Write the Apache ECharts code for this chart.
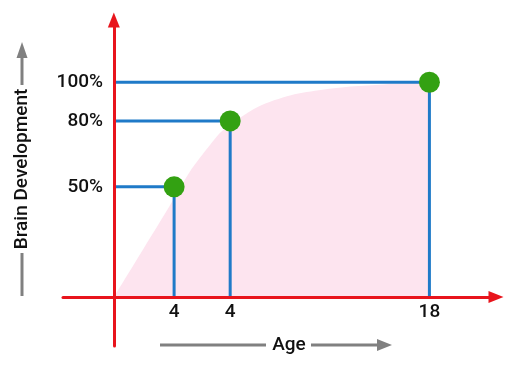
<!DOCTYPE html>
<html>
<head>
<meta charset="utf-8">
<script src="https://cdn.jsdelivr.net/npm/echarts@6/dist/echarts.min.js"></script>
<style>html,body{margin:0;padding:0;background:#fff}#c{width:516px;height:366px}</style>
</head>
<body>
<div id="c"></div>
<script>
// Key points (age position on axis, development %)
var pointX = [3.43, 6.63, 18];
var pointY = [51.3, 82, 100];
var xTickLabels = ['4', '4', '18'];
var yTickLabels = ['50%', '80%', '100%'];
// Development curve (pink area)
var curveX = [0, 1.5, 3, 4.3, 5.5, 6.2, 8.2, 10.1, 11.9, 13.5, 15.4, 18];
var curveY = [0, 20, 40, 58, 71, 77.5, 88.5, 94, 96.5, 98, 99, 100];
var xTitle = 'Age';
var yTitle = 'Brain Development';

var RED = '#e8141c', BLUE = '#1f7ac8', GREEN = '#33a112', PINK = '#fde4ef', GRAY = '#808080';
var FONT = 'Roboto';
var X_MIN = -2.9, X_MAX = 21.8, Y_MIN = -22.8, Y_MAX = 129;

function lookup(vals, labels, v) {
  for (var i = 0; i < vals.length; i++) if (Math.abs(vals[i] - v) < 1e-6) return labels[i];
  return '';
}

var series = [];
series.push({
  type: 'line', smooth: 0.3, showSymbol: false, symbol: 'none', z: 1,
  xAxisIndex: 0, yAxisIndex: 0,
  lineStyle: { width: 0 }, areaStyle: { color: PINK, opacity: 1 },
  data: curveX.map(function (x, i) { return [x, curveY[i]]; })
});
for (var i = 0; i < pointX.length; i++) {
  series.push({
    type: 'line', symbol: 'none', z: 2, silent: true,
    xAxisIndex: 0, yAxisIndex: 0,
    lineStyle: { color: BLUE, width: 3 },
    data: [[0, pointY[i]], [pointX[i], pointY[i]], [pointX[i], 0]]
  });
}
series.push({
  type: 'scatter', symbolSize: 21, z: 4,
  xAxisIndex: 0, yAxisIndex: 0,
  itemStyle: { color: GREEN, opacity: 1 },
  data: pointX.map(function (x, i) { return [x, pointY[i]]; })
});

var labelStyle = { color: '#111', fontSize: 19, fontWeight: 500, fontFamily: FONT };

var option = {
  animation: false,
  backgroundColor: '#fff',
  grid: [
    // data grid: origin at its bottom-left corner
    { left: 114, right: 20, top: 20, bottom: 69, outerBoundsMode: 'none', containLabel: false },
    // full grid: carries the extended red axis lines
    { left: 63, right: 20, top: 20, bottom: 20, outerBoundsMode: 'none', containLabel: false }
  ],
  xAxis: [
    {
      gridIndex: 0, type: 'value', min: 0, max: X_MAX,
      axisLine: { show: false }, axisTick: { show: false }, splitLine: { show: false },
      axisLabel: Object.assign({
        customValues: pointX, margin: 6,
        formatter: function (v) { return lookup(pointX, xTickLabels, v); }
      }, labelStyle)
    },
    {
      gridIndex: 1, type: 'value', min: X_MIN, max: X_MAX, z: 5,
      axisLine: { show: true, onZero: true, symbol: ['none', 'triangle'], symbolSize: [12, 15], lineStyle: { color: RED, width: 3 } },
      axisTick: { show: false }, splitLine: { show: false }, axisLabel: { show: false }
    }
  ],
  yAxis: [
    {
      gridIndex: 0, type: 'value', min: 0, max: Y_MAX,
      axisLine: { show: false }, axisTick: { show: false }, splitLine: { show: false },
      axisLabel: Object.assign({
        customValues: pointY, margin: 11,
        formatter: function (v) { return lookup(pointY, yTickLabels, v); }
      }, labelStyle)
    },
    {
      gridIndex: 1, type: 'value', min: Y_MIN, max: Y_MAX, z: 5,
      axisLine: { show: true, onZero: true, symbol: ['none', 'triangle'], symbolSize: [12, 15], lineStyle: { color: RED, width: 3 } },
      axisTick: { show: false }, splitLine: { show: false }, axisLabel: { show: false }
    }
  ],
  graphic: [
    // Y title with arrow
    { type: 'line', shape: { x1: 22, y1: 296, x2: 22, y2: 253 }, style: { stroke: GRAY, lineWidth: 3 } },
    { type: 'line', shape: { x1: 22, y1: 85, x2: 22, y2: 56 }, style: { stroke: GRAY, lineWidth: 3 } },
    { type: 'polygon', shape: { points: [[22, 42], [16.5, 58], [27.5, 58]] }, style: { fill: GRAY } },
    { type: 'text', x: 22, y: 169, rotation: Math.PI / 2,
      style: { text: yTitle, fill: '#111', font: '500 19px Roboto', align: 'center', verticalAlign: 'middle' } },
    // X title with arrow
    { type: 'line', shape: { x1: 160, y1: 345, x2: 266, y2: 345 }, style: { stroke: GRAY, lineWidth: 3 } },
    { type: 'line', shape: { x1: 311, y1: 345, x2: 380, y2: 345 }, style: { stroke: GRAY, lineWidth: 3 } },
    { type: 'polygon', shape: { points: [[392, 345], [377, 339], [377, 351]] }, style: { fill: GRAY } },
    { type: 'text', x: 289, y: 345,
      style: { text: xTitle, fill: '#111', font: '500 19px Roboto', align: 'center', verticalAlign: 'middle' } }
  ],
  series: series
};

var chart = echarts.init(document.getElementById('c'), null, { renderer: 'canvas' });
chart.setOption(option);
</script>
</body>
</html>
